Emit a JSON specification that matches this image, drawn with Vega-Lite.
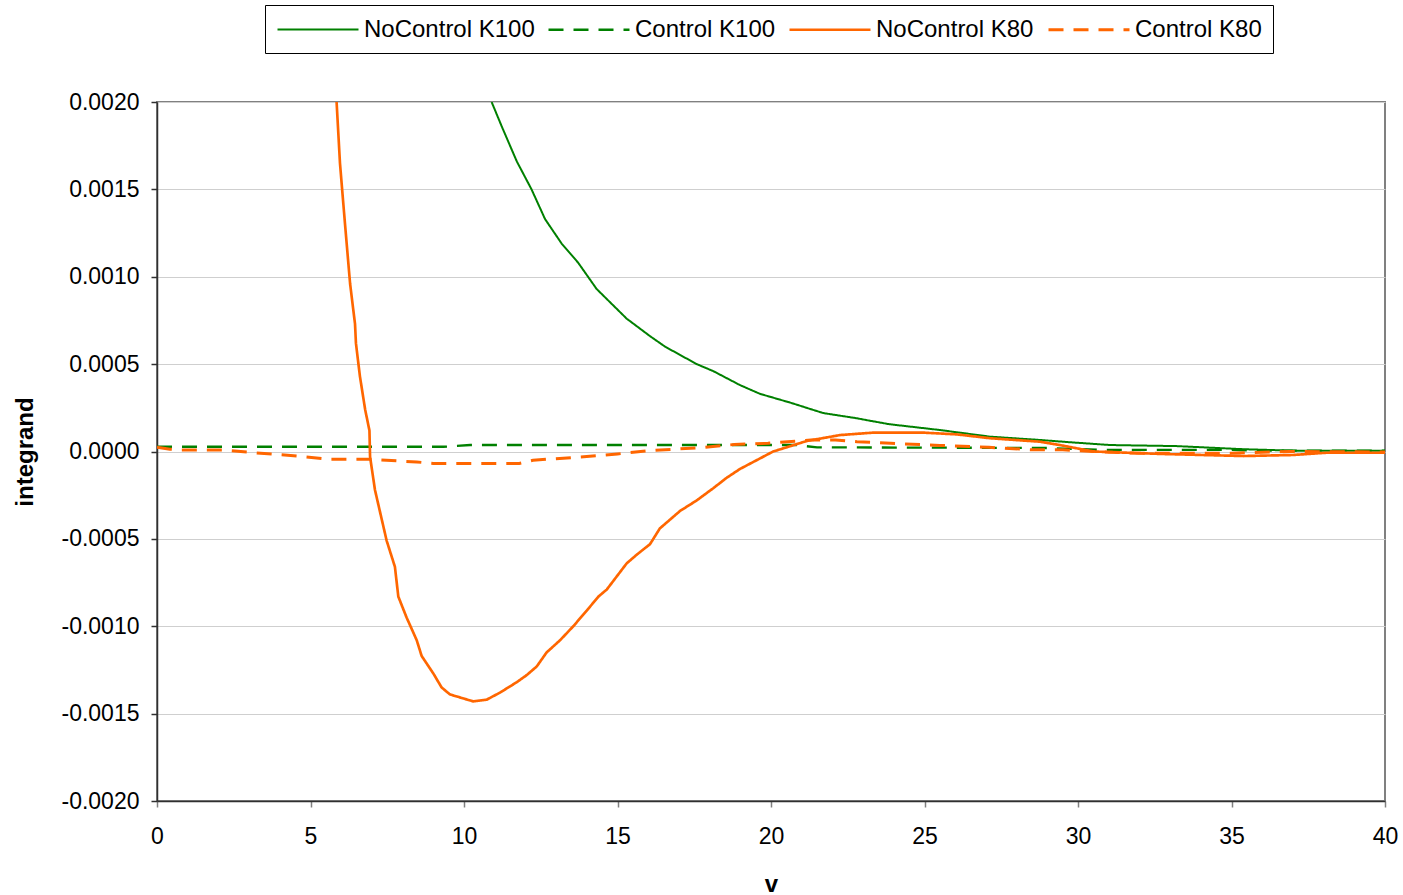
{
  "$schema": "https://vega.github.io/schema/vega-lite/v6.json",
  "width": 1228,
  "height": 699,
  "autosize": {"type": "none"},
  "padding": {"left": 157, "top": 102, "right": 18, "bottom": 94},
  "background": "white",
  "config": {
    "font": "Liberation Sans",
    "view": {"stroke": "#808080", "strokeWidth": 2}
  },
  "data": {
    "values": [
      {"v":10.9,"integrand":0.0020,"series":"NoControl K100"},
      {"v":11.23,"integrand":0.00186,"series":"NoControl K100"},
      {"v":11.72,"integrand":0.00166,"series":"NoControl K100"},
      {"v":12.2,"integrand":0.0015,"series":"NoControl K100"},
      {"v":12.64,"integrand":0.00133,"series":"NoControl K100"},
      {"v":13.18,"integrand":0.00119,"series":"NoControl K100"},
      {"v":13.72,"integrand":0.00108,"series":"NoControl K100"},
      {"v":14.32,"integrand":0.00093,"series":"NoControl K100"},
      {"v":15.3,"integrand":0.00076,"series":"NoControl K100"},
      {"v":16.06,"integrand":0.00066,"series":"NoControl K100"},
      {"v":16.55,"integrand":0.0006,"series":"NoControl K100"},
      {"v":17.58,"integrand":0.0005,"series":"NoControl K100"},
      {"v":18.12,"integrand":0.00046,"series":"NoControl K100"},
      {"v":18.99,"integrand":0.00038,"series":"NoControl K100"},
      {"v":19.64,"integrand":0.00033,"series":"NoControl K100"},
      {"v":20.62,"integrand":0.00028,"series":"NoControl K100"},
      {"v":21.7,"integrand":0.00022,"series":"NoControl K100"},
      {"v":22.8,"integrand":0.00019,"series":"NoControl K100"},
      {"v":23.1,"integrand":0.00018,"series":"NoControl K100"},
      {"v":23.86,"integrand":0.000156,"series":"NoControl K100"},
      {"v":25.5,"integrand":0.000123,"series":"NoControl K100"},
      {"v":27.13,"integrand":0.000085,"series":"NoControl K100"},
      {"v":28.76,"integrand":0.000066,"series":"NoControl K100"},
      {"v":29.74,"integrand":0.000053,"series":"NoControl K100"},
      {"v":31.04,"integrand":0.000037,"series":"NoControl K100"},
      {"v":33.2,"integrand":0.000031,"series":"NoControl K100"},
      {"v":35.4,"integrand":0.000013,"series":"NoControl K100"},
      {"v":37,"integrand":0.000005,"series":"NoControl K100"},
      {"v":40,"integrand":0.000005,"series":"NoControl K100"},

      {"v":0,"integrand":0.000027,"series":"Control K100"},
      {"v":9.33,"integrand":0.000027,"series":"Control K100"},
      {"v":10.2,"integrand":0.000037,"series":"Control K100"},
      {"v":20.8,"integrand":0.000037,"series":"Control K100"},
      {"v":21.5,"integrand":0.000024,"series":"Control K100"},
      {"v":29,"integrand":0.00002,"series":"Control K100"},
      {"v":30.8,"integrand":0.000009,"series":"Control K100"},
      {"v":35,"integrand":0.000009,"series":"Control K100"},
      {"v":36,"integrand":0.000005,"series":"Control K100"},
      {"v":40,"integrand":0.000005,"series":"Control K100"},

      {"v":5.85,"integrand":0.0020,"series":"NoControl K80"},
      {"v":5.96,"integrand":0.00165,"series":"NoControl K80"},
      {"v":6.12,"integrand":0.00131,"series":"NoControl K80"},
      {"v":6.29,"integrand":0.00096,"series":"NoControl K80"},
      {"v":6.45,"integrand":0.00073,"series":"NoControl K80"},
      {"v":6.48,"integrand":0.00062,"series":"NoControl K80"},
      {"v":6.61,"integrand":0.00043,"series":"NoControl K80"},
      {"v":6.78,"integrand":0.00024,"series":"NoControl K80"},
      {"v":6.92,"integrand":0.00012,"series":"NoControl K80"},
      {"v":6.94,"integrand":-0.00003,"series":"NoControl K80"},
      {"v":7.1,"integrand":-0.00022,"series":"NoControl K80"},
      {"v":7.48,"integrand":-0.00051,"series":"NoControl K80"},
      {"v":7.75,"integrand":-0.00066,"series":"NoControl K80"},
      {"v":7.86,"integrand":-0.00083,"series":"NoControl K80"},
      {"v":8.13,"integrand":-0.00095,"series":"NoControl K80"},
      {"v":8.46,"integrand":-0.00108,"series":"NoControl K80"},
      {"v":8.62,"integrand":-0.00117,"series":"NoControl K80"},
      {"v":9.0,"integrand":-0.00127,"series":"NoControl K80"},
      {"v":9.27,"integrand":-0.00135,"series":"NoControl K80"},
      {"v":9.54,"integrand":-0.00139,"series":"NoControl K80"},
      {"v":10.3,"integrand":-0.00143,"series":"NoControl K80"},
      {"v":10.74,"integrand":-0.00142,"series":"NoControl K80"},
      {"v":11.17,"integrand":-0.00138,"series":"NoControl K80"},
      {"v":11.72,"integrand":-0.00132,"series":"NoControl K80"},
      {"v":12.04,"integrand":-0.00128,"series":"NoControl K80"},
      {"v":12.37,"integrand":-0.00123,"series":"NoControl K80"},
      {"v":12.69,"integrand":-0.00115,"series":"NoControl K80"},
      {"v":13.13,"integrand":-0.00108,"series":"NoControl K80"},
      {"v":13.56,"integrand":-0.001,"series":"NoControl K80"},
      {"v":14.0,"integrand":-0.00091,"series":"NoControl K80"},
      {"v":14.38,"integrand":-0.00083,"series":"NoControl K80"},
      {"v":14.65,"integrand":-0.00079,"series":"NoControl K80"},
      {"v":15.3,"integrand":-0.00064,"series":"NoControl K80"},
      {"v":15.63,"integrand":-0.00059,"series":"NoControl K80"},
      {"v":16.06,"integrand":-0.00053,"series":"NoControl K80"},
      {"v":16.38,"integrand":-0.00044,"series":"NoControl K80"},
      {"v":17.04,"integrand":-0.00034,"series":"NoControl K80"},
      {"v":17.58,"integrand":-0.00028,"series":"NoControl K80"},
      {"v":18.12,"integrand":-0.00021,"series":"NoControl K80"},
      {"v":18.56,"integrand":-0.00015,"series":"NoControl K80"},
      {"v":18.99,"integrand":-0.0001,"series":"NoControl K80"},
      {"v":19.53,"integrand":-0.00005,"series":"NoControl K80"},
      {"v":20.07,"integrand":0,"series":"NoControl K80"},
      {"v":20.62,"integrand":0.00003,"series":"NoControl K80"},
      {"v":21.16,"integrand":0.00006,"series":"NoControl K80"},
      {"v":22.25,"integrand":0.000094,"series":"NoControl K80"},
      {"v":23.33,"integrand":0.000108,"series":"NoControl K80"},
      {"v":24.96,"integrand":0.000108,"series":"NoControl K80"},
      {"v":26.05,"integrand":0.000098,"series":"NoControl K80"},
      {"v":27.13,"integrand":0.000076,"series":"NoControl K80"},
      {"v":28.76,"integrand":0.000056,"series":"NoControl K80"},
      {"v":29.4,"integrand":0.000037,"series":"NoControl K80"},
      {"v":30.5,"integrand":0,"series":"NoControl K80"},
      {"v":32.7,"integrand":-0.000014,"series":"NoControl K80"},
      {"v":35.4,"integrand":-0.000026,"series":"NoControl K80"},
      {"v":37,"integrand":-0.00002,"series":"NoControl K80"},
      {"v":38.1,"integrand":-0.000007,"series":"NoControl K80"},
      {"v":40,"integrand":-0.000007,"series":"NoControl K80"},

      {"v":0,"integrand":0.000024,"series":"Control K80"},
      {"v":0.42,"integrand":0.000013,"series":"Control K80"},
      {"v":0.8,"integrand":0.000009,"series":"Control K80"},
      {"v":2.15,"integrand":0.000009,"series":"Control K80"},
      {"v":3.03,"integrand":-0.000005,"series":"Control K80"},
      {"v":4.55,"integrand":-0.000026,"series":"Control K80"},
      {"v":5.64,"integrand":-0.000045,"series":"Control K80"},
      {"v":6.94,"integrand":-0.000045,"series":"Control K80"},
      {"v":8.46,"integrand":-0.00006,"series":"Control K80"},
      {"v":9.0,"integrand":-0.000068,"series":"Control K80"},
      {"v":11.8,"integrand":-0.000068,"series":"Control K80"},
      {"v":12.25,"integrand":-0.00005,"series":"Control K80"},
      {"v":13.9,"integrand":-0.00003,"series":"Control K80"},
      {"v":15,"integrand":-0.000014,"series":"Control K80"},
      {"v":16.06,"integrand":0.000005,"series":"Control K80"},
      {"v":17.7,"integrand":0.000022,"series":"Control K80"},
      {"v":18.8,"integrand":0.00004,"series":"Control K80"},
      {"v":19.9,"integrand":0.000047,"series":"Control K80"},
      {"v":20.3,"integrand":0.000053,"series":"Control K80"},
      {"v":21.3,"integrand":0.000066,"series":"Control K80"},
      {"v":22.1,"integrand":0.000066,"series":"Control K80"},
      {"v":22.8,"integrand":0.000056,"series":"Control K80"},
      {"v":23.9,"integrand":0.000047,"series":"Control K80"},
      {"v":25.5,"integrand":0.000035,"series":"Control K80"},
      {"v":27.1,"integrand":0.000024,"series":"Control K80"},
      {"v":28.5,"integrand":0.00001,"series":"Control K80"},
      {"v":29.5,"integrand":0.00001,"series":"Control K80"},
      {"v":30.5,"integrand":0,"series":"Control K80"},
      {"v":32,"integrand":-0.00001,"series":"Control K80"},
      {"v":35,"integrand":-0.00001,"series":"Control K80"},
      {"v":36.9,"integrand":0,"series":"Control K80"},
      {"v":40,"integrand":-0.000003,"series":"Control K80"}
    ]
  },
  "mark": {"type": "line", "clip": true, "interpolate": "linear"},
  "encoding": {
    "x": {
      "field": "v", "type": "quantitative",
      "scale": {"domain": [0, 40], "nice": false, "zero": false},
      "axis": {
        "title": "v", "titleFontSize": 24, "titleFontWeight": "bold", "titleColor": "black", "titlePadding": 24,
        "values": [0,5,10,15,20,25,30,35,40],
        "labelFontSize": 23, "labelColor": "black", "labelPadding": 18, "labelFlush": false,
        "grid": false, "domainColor": "#303030", "domainWidth": 1.5,
        "tickColor": "#808080", "tickSize": 6, "tickWidth": 1.5
      }
    },
    "y": {
      "field": "integrand", "type": "quantitative",
      "scale": {"domain": [-0.002, 0.002], "nice": false, "zero": false},
      "axis": {
        "title": "integrand", "titleFontSize": 24, "titleFontWeight": "bold", "titleColor": "black", "titlePadding": 23,
        "values": [-0.002,-0.0015,-0.001,-0.0005,0,0.0005,0.001,0.0015,0.002],
        "labelExpr": "replace(format(datum.value, '.4f'), '−', '-')",
        "labelFontSize": 23, "labelColor": "black", "labelPadding": 12, "labelFlush": false,
        "grid": true, "gridColor": "#cfcfcf", "gridWidth": 1.2,
        "domainColor": "#303030", "domainWidth": 1.5,
        "tickColor": "#303030", "tickSize": 6, "tickWidth": 1.5
      }
    },
    "color": {
      "field": "series", "type": "nominal",
      "scale": {
        "domain": ["NoControl K100", "Control K100", "NoControl K80", "Control K80"],
        "range": ["#008000", "#008000", "#FF6600", "#FF6600"]
      },
      "legend": {
        "title": null, "orient": "none", "legendX": 108, "legendY": -97,
        "direction": "horizontal", "columns": 4,
        "strokeColor": "black", "fillColor": "white", "padding": 11,
        "columnPadding": 8, "labelFontSize": 24, "labelColor": "black", "labelOffset": 61,
        "symbolType": "M-1,0H5.75", "symbolSize": 576, "symbolStrokeWidth": 2.5, "labelLimit": 400
      }
    },
    "strokeDash": {
      "field": "series", "type": "nominal",
      "scale": {
        "domain": ["NoControl K100", "Control K100", "NoControl K80", "Control K80"],
        "range": [[1, 0], [15, 10], [1, 0], [15, 10]]
      },
      "legend": {
        "title": null, "orient": "none", "legendX": 108, "legendY": -97,
        "direction": "horizontal", "columns": 4,
        "strokeColor": "black", "fillColor": "white", "padding": 11,
        "columnPadding": 8, "labelFontSize": 24, "labelColor": "black", "labelOffset": 61,
        "symbolType": "M-1,0H5.75", "symbolSize": 576, "symbolStrokeWidth": 2.5, "labelLimit": 400
      }
    },
    "strokeWidth": {
      "field": "series", "type": "nominal",
      "scale": {
        "domain": ["NoControl K100", "Control K100", "NoControl K80", "Control K80"],
        "range": [2, 3, 2, 3]
      },
      "legend": null
    }
  }
}
